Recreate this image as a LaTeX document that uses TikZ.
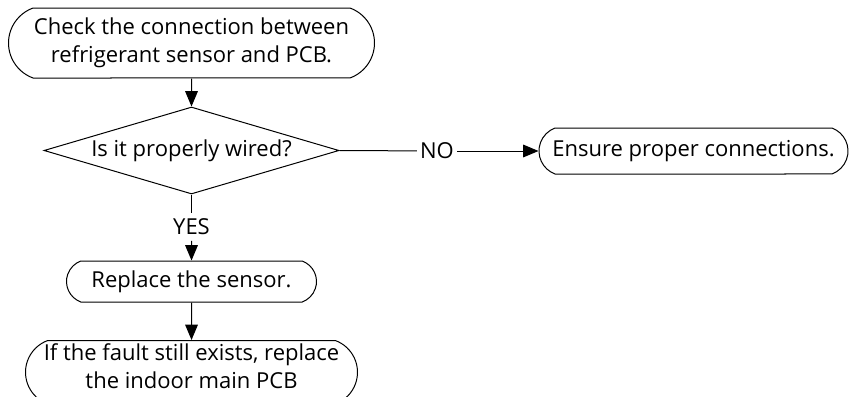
\documentclass[tikz,border=0pt]{standalone}
\usepackage{fontspec}
\setmainfont{Open Sans}
\usetikzlibrary{shapes.geometric,shapes.misc,arrows.meta}

\newcommand{\flowfont}{\fontsize{16.5}{21}\selectfont}
\tikzset{every picture/.style={line width=0.75pt}}
\tikzset{
  term/.style={draw, rounded rectangle, rounded rectangle arc length=140, align=center, inner sep=0pt, font=\flowfont},
  decision/.style={draw, diamond, shape aspect=3.4, inner sep=0pt, font=\flowfont},
  answer/.style={inner xsep=2pt, inner ysep=4pt, font=\flowfont},
  flow/.style={-{Triangle[length=11.5pt,width=9.5pt]}},
}

\begin{document}
\begin{tikzpicture}[x=0.75pt,y=0.75pt,yscale=-1,xscale=1]
\useasboundingbox (0,0) rectangle (849,396);

% Terminal: start
\node (check) [term, minimum width=274.5pt, minimum height=52.5pt] at (191.5,43) {Check the connection between\\refrigerant sensor and PCB.};
% Decision
\node (wired) [decision, minimum width=221.25pt, minimum height=65.25pt] at (191.5,150.5) {Is it properly wired?};
% Answers
\node (no) [answer] at (437,151) {NO};
\node (yes) [answer] at (191.5,227) {YES};
% Terminal: NO branch
\node (ensure) [term, minimum width=231.75pt, minimum height=34.5pt] at (693.5,151) {Ensure proper connections.};
% Terminal: YES branch
\node (replace) [term, minimum width=187.5pt, minimum height=30.75pt] at (191.5,281.5) {Replace the sensor.};
\node (pcb) [term, minimum width=249pt, inner ysep=2pt, text depth=10pt, anchor=north] at (191.5,340) {If the fault still exists, replace\\the indoor main PCB};

% Connectors
\draw [flow] (check) -- (wired);
\draw (wired.east) -- (no);
\draw [flow] (no) -- (ensure);
\draw (wired.south) -- (yes);
\draw [flow] (yes) -- (replace);
\draw [flow] (replace) -- (pcb);

\end{tikzpicture}
\end{document}
